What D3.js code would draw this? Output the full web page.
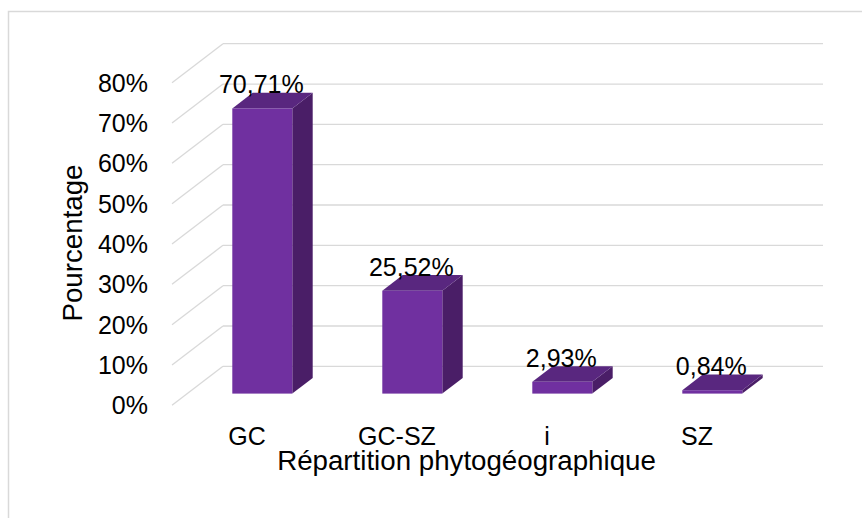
<!DOCTYPE html>
<html>
<head>
<meta charset="utf-8">
<script src="https://cdn.jsdelivr.net/npm/d3@7"></script>
<style>
    html, body { margin: 0; padding: 0; background: #fff; }
    svg { display: block; font-family: "Liberation Sans", Arial, sans-serif; }
</style>
</head>
<body>
<div id="chart"></div>
<script>
(function () {
    'use strict';

    const categories = ['GC', 'GC-SZ', 'i', 'SZ'];
    const values = [70.71, 25.52, 2.93, 0.84];
    const valueLabels = ['70,71%', '25,52%', '2,93%', '0,84%'];
    const yTicks = [0, 10, 20, 30, 40, 50, 60, 70, 80];

    const W = 862, H = 518;

    // 3D box: front plane vs back wall offset
    const DEPTH = {dx: 51, dy: -39};
    const BAR_FRONT = 0.3, BAR_BACK = 0.7; // fraction of the depth the bar occupies

    const svg = d3.select('#chart').append('svg').attr('width', W).attr('height', H);

    // chart frame (right / bottom edges sit outside the picture)
    svg.append('rect')
        .attr('x', 8.5).attr('y', 11.5).attr('width', 900).attr('height', 600)
        .attr('fill', '#fff').attr('stroke', '#d9d9d9').attr('stroke-width', 1.5);

    const frontX0 = 172, frontX1 = 772;
    const xScale = d3.scaleBand().domain(categories)
        .range([frontX0, frontX1]).paddingInner(0.6).paddingOuter(0.3);
    // y on the back wall
    const yScale = d3.scaleLinear().domain([0, 80]).range([366.3, 43.7]);

    const off = f => ({x: DEPTH.dx * f, y: DEPTH.dy * f});
    const yAt = (v, f) => yScale(v) + DEPTH.dy * (f - 1);

    // Gridlines: back wall + side wall
    const grid = svg.append('g').attr('stroke', '#d9d9d9').attr('stroke-width', 1.3).attr('fill', 'none');
    yTicks.forEach(t => {
        const yb = yScale(t);
        grid.append('line')
            .attr('x1', frontX0 + DEPTH.dx).attr('x2', frontX1 + DEPTH.dx)
            .attr('y1', yb).attr('y2', yb);
        grid.append('line')
            .attr('x1', frontX0).attr('x2', frontX0 + DEPTH.dx)
            .attr('y1', yb - DEPTH.dy).attr('y2', yb);
    });

    // Tick labels on the front edge
    svg.append('g').selectAll('text').data(yTicks).join('text')
        .attr('x', 148).attr('y', d => yAt(d, 0))
        .attr('dy', '0.36em').attr('text-anchor', 'end')
        .attr('font-size', '25px').attr('fill', '#000')
        .text(d => `${d}%`);

    // Bars
    const fo = off(BAR_FRONT), bo = off(BAR_BACK);
    const bars = svg.append('g');
    categories.forEach((c, i) => {
        const x0 = xScale(c) + fo.x, x1 = x0 + xScale.bandwidth();
        const yTopF = yAt(values[i], BAR_FRONT), yBotF = yAt(0, BAR_FRONT);
        const ddx = bo.x - fo.x, ddy = bo.y - fo.y;
        // side face
        bars.append('path')
            .attr('d', `M${x1},${yTopF}L${x1 + ddx},${yTopF + ddy}L${x1 + ddx},${yBotF + ddy}L${x1},${yBotF}Z`)
            .attr('fill', '#4a1e67');
        // top face
        bars.append('path')
            .attr('d', `M${x0},${yTopF}L${x0 + ddx},${yTopF + ddy}L${x1 + ddx},${yTopF + ddy}L${x1},${yTopF}Z`)
            .attr('fill', '#59277f');
        // front face
        bars.append('rect')
            .attr('x', x0).attr('y', yTopF)
            .attr('width', xScale.bandwidth()).attr('height', yBotF - yTopF)
            .attr('fill', '#7030a0');
        // value label
        bars.append('text')
            .attr('x', x0 + xScale.bandwidth() / 2 - 1).attr('y', yAt(values[i], BAR_BACK) + 0.5)
            .attr('text-anchor', 'middle').attr('font-size', '25px').attr('fill', '#000')
            .text(valueLabels[i]);
    });

    // Category labels
    svg.append('g').selectAll('text').data(categories).join('text')
        .attr('x', d => xScale(d) + xScale.bandwidth() / 2).attr('y', 445)
        .attr('text-anchor', 'middle').attr('font-size', '25px').attr('fill', '#000')
        .text(d => d);

    // Axis titles
    svg.append('text')
        .attr('x', 466.5).attr('y', 470)
        .attr('text-anchor', 'middle').attr('font-size', '27.7px').attr('fill', '#000')
        .text('Répartition phytogéographique');
    svg.append('text')
        .attr('transform', 'translate(82,243) rotate(-90)')
        .attr('text-anchor', 'middle').attr('font-size', '27.7px').attr('fill', '#000')
        .text('Pourcentage');
})();
</script>
</body>
</html>
